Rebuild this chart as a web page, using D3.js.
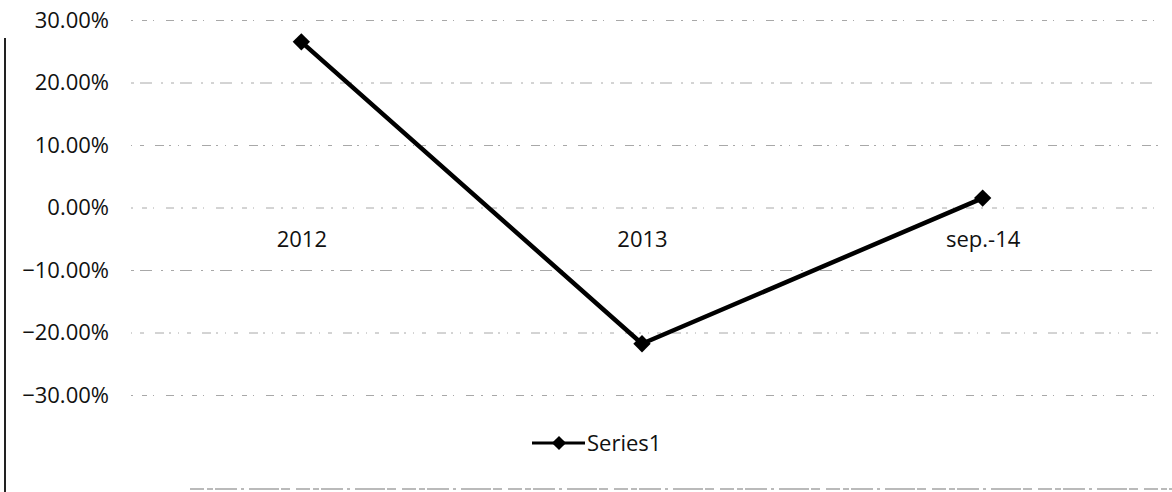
<!DOCTYPE html>
<html>
<head>
<meta charset="utf-8">
<script src="https://cdn.jsdelivr.net/npm/d3@7"></script>
<style>
  html, body { margin: 0; padding: 0; background: #fff; }
  svg { display: block; }
  text { font-family: "Open Sans", "Liberation Sans", sans-serif; fill: #111; }
</style>
</head>
<body>
<svg id="chart" width="1172" height="492"></svg>
<script>
// Yearly change, as fractions
const categories = ["2012", "2013", "sep.-14"];
const series1 = [0.265, -0.218, 0.015];
const yTicks = [0.30, 0.20, 0.10, 0.00, -0.10, -0.20, -0.30];
const seriesName = "Series1";

const svg = d3.select("#chart");
const W = 1172, H = 492;
const plot = { left: 131, right: 1153, top: 20, bottom: 395 };
const FONT = 22;
const WEIGHT = 500;

const x = d3.scalePoint()
  .domain(categories)
  .range([plot.left, plot.right])
  .padding(0.5);

const y = d3.scaleLinear()
  .domain([-0.30, 0.30])
  .range([plot.bottom, plot.top]);

const pct = d3.format(".2%");

// Frame edges
svg.append("line")
  .attr("x1", 5).attr("x2", 5).attr("y1", 38).attr("y2", H)
  .attr("stroke", "#222").attr("stroke-width", 2);
svg.append("line")
  .attr("x1", 190).attr("x2", W).attr("y1", 489).attr("y2", 489)
  .attr("stroke", "#777").attr("stroke-width", 1.2)
  .attr("stroke-dasharray", "14,3,6,2,22,4,3,5,30,2,9,6");

// Horizontal gridlines
const grid = svg.append("g")
  .attr("transform", `translate(${plot.left},0)`)
  .call(d3.axisLeft(y).tickValues(yTicks).tickSize(-(plot.right - plot.left + 8)).tickFormat(""));
grid.select(".domain").remove();
grid.selectAll(".tick line")
  .attr("stroke", "#a8a8a8")
  .attr("stroke-width", 1)
  .attr("stroke-dasharray", (d, i) => ["2,9,5,6,1,12,8,7", "3,6,12,9,2,8", "1,8,4,11,9,5,2,7"][i % 3]);

// Y axis labels
const yAxis = svg.append("g")
  .attr("transform", `translate(109,0)`)
  .call(d3.axisLeft(y).tickValues(yTicks).tickSize(0).tickPadding(0).tickFormat(pct));
yAxis.select(".domain").remove();
yAxis.selectAll(".tick text")
  .attr("font-size", FONT)
  .attr("font-weight", WEIGHT)
  .attr("fill", "#111")
  .style("font-family", "'Open Sans', sans-serif");

// Category labels below the zero line
const xAxis = svg.append("g")
  .attr("transform", `translate(0,${y(0) + 24})`)
  .call(d3.axisBottom(x).tickSize(0).tickPadding(0));
xAxis.select(".domain").remove();
xAxis.selectAll(".tick text")
  .attr("font-size", FONT)
  .attr("font-weight", WEIGHT)
  .attr("fill", "#111")
  .attr("dy", "0.71em")
  .style("font-family", "'Open Sans', sans-serif");

// Series line
const pts = categories.map((c, i) => ({ c, v: series1[i] }));
const line = d3.line().x(d => x(d.c)).y(d => y(d.v));
svg.append("path")
  .datum(pts)
  .attr("d", line)
  .attr("fill", "none")
  .attr("stroke", "#000")
  .attr("stroke-width", 4.5)
  .attr("stroke-linejoin", "round");

// Diamond markers (square turned 45 degrees)
const diamond = d3.symbol().type(d3.symbolSquare).size(150);
svg.append("g").selectAll("path")
  .data(pts)
  .join("path")
  .attr("d", diamond)
  .attr("transform", d => `translate(${x(d.c)},${y(d.v)}) rotate(45)`)
  .attr("fill", "#000");

// Legend
const lg = svg.append("g").attr("transform", "translate(532,443)");
lg.append("line").attr("x1", 0).attr("x2", 53).attr("y1", 0).attr("y2", 0)
  .attr("stroke", "#000").attr("stroke-width", 3);
lg.append("path").attr("d", d3.symbol().type(d3.symbolSquare).size(100))
  .attr("transform", "translate(27,0) rotate(45)").attr("fill", "#000");
lg.append("text").attr("x", 55).attr("y", 0).attr("dy", "0.35em")
  .attr("font-size", FONT).attr("font-weight", WEIGHT).text(seriesName);
</script>
</body>
</html>
